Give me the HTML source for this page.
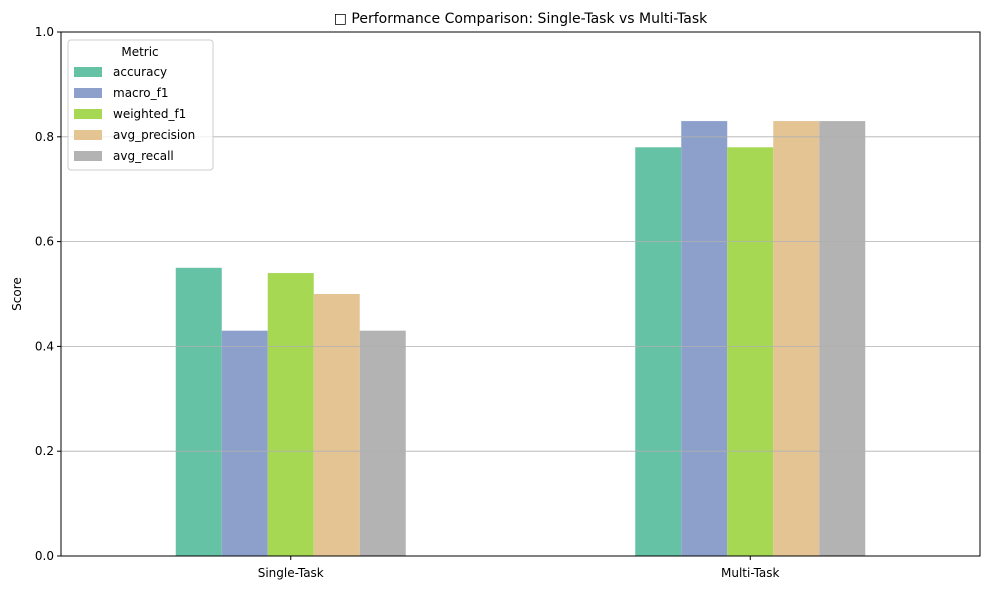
<!DOCTYPE html>
<html><head><meta charset="utf-8"><style>
body{margin:0;background:#fff;font-family:"Liberation Sans","DejaVu Sans",sans-serif}
svg text{font-family:"DejaVu Sans","Liberation Sans",sans-serif}
</style></head><body>
<svg id="c" width="989" height="590" xmlns="http://www.w3.org/2000/svg"></svg>
<script>
const categories=["Single-Task","Multi-Task"];
const metrics=["accuracy","macro_f1","weighted_f1","avg_precision","avg_recall"];
const accuracy=[0.55,0.78];
const macro_f1=[0.43,0.83];
const weighted_f1=[0.54,0.78];
const avg_precision=[0.50,0.83];
const avg_recall=[0.43,0.83];
const yTicks=[0.0,0.2,0.4,0.6,0.8,1.0];
const series=[accuracy,macro_f1,weighted_f1,avg_precision,avg_recall];
const colors=["#66c2a5","#8da0cb","#a6d854","#e5c494","#b3b3b3"];
const L=61,R=980,T=32,B=556;
const y=v=>B-(v-0)/(1-0)*(B-T);
const xc=i=>L+(i+0.5)*(R-L)/categories.length;
const bw=46;
const svg=document.getElementById('c');
const NS="http://www.w3.org/2000/svg";
function mk(tag,attrs,text){const e=document.createElementNS(NS,tag);for(const k in attrs)e.setAttribute(k,attrs[k]);if(text!==undefined)e.textContent=text;svg.appendChild(e);return e;}
// bars
series.forEach((s,j)=>{s.forEach((v,i)=>{
 const x=xc(i)+(j-2.5)*bw;
 const r=mk('rect',{x:x,y:y(v),width:bw,height:B-y(v),fill:colors[j]});
 
 
});});
// grid
yTicks.forEach(t=>{
 if(t>0&&t<1){const g=mk('line',{x1:L,x2:R,y1:y(t),y2:y(t),stroke:'#b0b0b0','stroke-width':0.8});
 
 }
 const tk=mk('line',{x1:L-4,x2:L,y1:y(t),y2:y(t),stroke:'#000'});
 
 
 const lb=mk('text',{x:L-7,y:y(t)+4,'text-anchor':'end','font-size':12},t.toFixed(1));
 
 
});
categories.forEach((c,i)=>{
 const tk=mk('line',{x1:xc(i),x2:xc(i),y1:B,y2:B+4,stroke:'#000'});
 
 
 const lb=mk('text',{x:xc(i),y:B+21,'text-anchor':'middle','font-size':12},c);
 
 
});
const fr=mk('rect',{x:L,y:T,width:R-L,height:B-T,fill:'none',stroke:'#000','stroke-width':1});


const yt=mk('text',{x:21,y:(T+B)/2,'text-anchor':'middle','font-size':12,transform:`rotate(-90 21 ${(T+B)/2})`},'Score');


const ti=mk('text',{x:(L+R)/2,y:23,'text-anchor':'middle','font-size':14},'□ Performance Comparison: Single-Task vs Multi-Task');


// legend
const lg=mk('rect',{x:68,y:40,width:145,height:130,fill:'#fff','fill-opacity':0.8,stroke:'#ccc',rx:3});


const lt=mk('text',{x:140,y:56,'text-anchor':'middle','font-size':12},'Metric');


metrics.forEach((m,j)=>{
 const yy=72+j*21;
 const p=mk('rect',{x:74,y:yy-5,width:28,height:10,fill:colors[j]});
 
 
 const t=mk('text',{x:113,y:yy+4,'font-size':12},m);
 
 
});
</script>
</body></html>
